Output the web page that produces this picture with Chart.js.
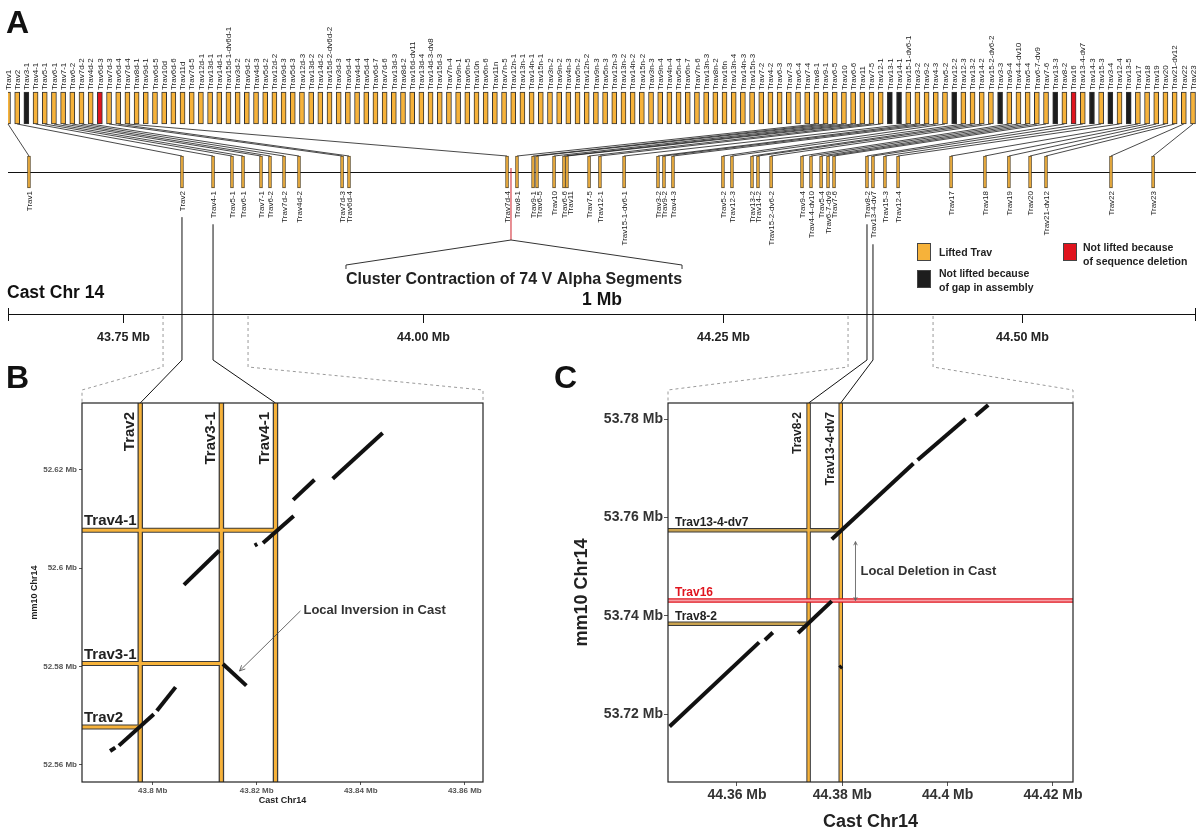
<!DOCTYPE html>
<html><head><meta charset="utf-8">
<script src="https://cdn.jsdelivr.net/npm/chart.js@4/dist/chart.umd.min.js"></script>
<style>
html,body{margin:0;padding:0;background:#fff;}
#wrap{position:relative;width:1204px;height:833px;overflow:hidden;background:#fff;}
canvas{position:absolute;}
</style></head><body>
<div id="wrap">
<canvas id="cA" width="1204" height="833" style="left:0px;top:0px"></canvas>
<canvas id="cB" width="500" height="420" style="left:0px;top:390px"></canvas>
<canvas id="cC" width="644" height="443" style="left:560px;top:390px"></canvas>
</div>
<script>
// ===================== DATA =====================
// Panel A: mm10 Trav gene order (top row)
const mm10Genes = [
'Trav1','Trav2','Trav3-1','Trav4-1','Trav5-1','Trav6-1','Trav7-1','Trav6-2','Trav7d-2','Trav4d-2',
'Trav6d-3','Trav7d-3','Trav6d-4','Trav7d-4','Trav8d-1','Trav9d-1','Trav6d-5','Trav10d','Trav6d-6','Trav11d',
'Trav7d-5','Trav12d-1','Trav13d-1','Trav14d-1','Trav15d-1-dv6d-1','Trav3d-2','Trav9d-2','Trav4d-3','Trav5d-2','Trav12d-2',
'Trav9d-3','Trav5d-3','Trav12d-3','Trav13d-2','Trav14d-2','Trav15d-2-dv6d-2','Trav3d-3','Trav9d-4','Trav4d-4','Trav5d-4',
'Trav6d-7','Trav7d-6','Trav13d-3','Trav8d-2','Trav16d-dv11','Trav13d-4','Trav14d-3-dv8','Trav15d-3','Trav7n-4','Trav9n-1',
'Trav6n-5','Trav10n','Trav6n-6','Trav11n','Trav7n-5','Trav12n-1','Trav13n-1','Trav14n-1','Trav15n-1','Trav3n-2',
'Trav9n-2','Trav4n-3','Trav5n-2','Trav12n-2','Trav9n-3','Trav5n-3','Trav12n-3','Trav13n-2','Trav14n-2','Trav15n-2',
'Trav3n-3','Trav9n-4','Trav4n-4','Trav5n-4','Trav6n-7','Trav7n-6','Trav13n-3','Trav8n-2','Trav16n','Trav13n-4',
'Trav14n-3','Trav15n-3','Trav7-2','Trav4-2','Trav6-3','Trav7-3','Trav6-4','Trav7-4','Trav8-1','Trav9-1',
'Trav6-5','Trav10','Trav6-6','Trav11','Trav7-5','Trav12-1','Trav13-1','Trav14-1','Trav15-1-dv6-1','Trav3-2',
'Trav9-2','Trav4-3','Trav5-2','Trav12-2','Trav12-3','Trav13-2','Trav14-2','Trav15-2-dv6-2','Trav3-3','Trav9-4',
'Trav4-4-dv10','Trav5-4','Trav6-7-dv9','Trav7-6','Trav13-3','Trav8-2','Trav16','Trav13-4-dv7','Trav14-3','Trav15-3',
'Trav3-4','Trav12-4','Trav13-5','Trav17','Trav18','Trav19','Trav20','Trav21-dv12','Trav22','Trav23'];
const gapGenes = ['Trav3-1','Trav13-1','Trav14-1','Trav12-2','Trav3-3','Trav13-3','Trav14-3','Trav3-4','Trav13-5'];
const deletedGenes = ['Trav6d-3','Trav16'];

// Panel A: lifted genes on Cast Chr14 (bottom row), positions in Mb
const castGenes = ['Trav1','Trav2','Trav4-1','Trav5-1','Trav6-1','Trav7-1','Trav6-2','Trav7d-2','Trav4d-2','Trav7d-3',
'Trav6d-4','Trav7d-4','Trav8-1','Trav9-1','Trav6-5','Trav10','Trav6-6','Trav11','Trav7-5','Trav12-1',
'Trav15-1-dv6-1','Trav3-2','Trav9-2','Trav4-3','Trav5-2','Trav12-3','Trav13-2','Trav14-2','Trav15-2-dv6-2','Trav9-4',
'Trav4-4-dv10','Trav5-4','Trav6-7-dv9','Trav7-6','Trav8-2','Trav13-4-dv7','Trav15-3','Trav12-4','Trav17','Trav18',
'Trav19','Trav20','Trav21-dv12','Trav22','Trav23'];
const castPosMb = [43.6716,43.7992,43.8251,43.8409,43.8501,43.8651,43.8726,43.8843,43.8968,43.9327,
43.9385,44.0703,44.0786,44.0920,44.0953,44.1095,44.1178,44.1203,44.1387,44.1478,
44.1679,44.1962,44.2012,44.2087,44.2504,44.2579,44.2746,44.2796,44.2905,44.3163,
44.3238,44.3322,44.3380,44.3430,44.3705,44.3755,44.3855,44.3964,44.4406,44.4689,
44.4889,44.5065,44.5198,44.5740,44.6091];
const castAxisRange = [43.6541, 44.6449];
const castAxisTicks = [43.75, 44.00, 44.25, 44.50];
const contractionPosMb = 44.0736;
const contractedCount = 74;
const zoomWindowB = [43.7834, 43.8543];
const zoomWindowC = [44.3547, 44.4256];
const zoomLinksB = ['Trav2','Trav4-1'];
const zoomLinksC = ['Trav8-2','Trav13-4-dv7'];

// Panel B
const bGenes = ['Trav2','Trav3-1','Trav4-1'];
const bCastMb = [43.7976, 43.8132, 43.8236];
const bMm10Mb = [52.5677, 52.5806, 52.6077];
const bRangeX = [43.7864, 43.8635];
const bRangeY = [52.5565, 52.6336];
const bTicksX = [43.80, 43.82, 43.84, 43.86];
const bTicksY = [52.56, 52.58, 52.60, 52.62];
const bSegments = [
 [43.7918,52.5628,43.7928,52.5635],
 [43.7935,52.5639,43.8002,52.5703],
 [43.8008,52.5710,43.8044,52.5758],
 [43.8135,52.5805,43.8180,52.5761],
 [43.8060,52.5966,43.8128,52.6036],
 [43.8196,52.6046,43.8201,52.6049],
 [43.8212,52.6051,43.8271,52.6106],
 [43.8270,52.6139,43.8311,52.6180],
 [43.8346,52.6182,43.8442,52.6275]];
const bInversionArrow = [43.8284, 52.5913, 43.8167, 52.5791];

// Panel C
const cGenes = ['Trav8-2','Trav13-4-dv7'];
const cCastMb = [44.3736, 44.3797];
const cMm10Mb = [53.7384, 53.7574];
const cDeletedGene = 'Trav16';
const cDeletedMm10Mb = 53.7431;
const cRangeX = [44.3469, 44.4238];
const cRangeY = [53.7062, 53.7833];
const cTicksX = [44.36, 44.38, 44.40, 44.42];
const cTicksY = [53.72, 53.74, 53.76, 53.78];
const cSegments = [
 [44.3472,53.7175,44.3642,53.7346],
 [44.3653,53.7351,44.3668,53.7366],
 [44.3716,53.7365,44.3780,53.7430],
 [44.3780,53.7556,44.3935,53.7710],
 [44.3943,53.7717,44.4034,53.7801],
 [44.4053,53.7807,44.4077,53.7829],
 [44.3795,53.7294,44.3799,53.7298]];
const cDeletionArrow = [44.3825, 53.7551, 44.3825, 53.7431];

// ===================== STYLE / LAYOUT =====================
const FF = "'Liberation Sans', Arial, Helvetica, sans-serif";
Chart.defaults.font.family = FF;
const COL = {lifted:'#F6B23A', gap:'#1d1d1d', deleted:'#E0141E', edge:'#3a3a3a', ink:'#222', seg:'#111'};
const L = {topLabelBase:90, topBarTop:92, topBarBot:124, lowBarTop:156, lowBarBot:188, chromY:172,
  lowLabelTop:191, axisY:314, elbowY:360, guideTop:316, guideElbow:367, guideCorner:390};
const OFF = {B:{left:0, top:390}, C:{left:560, top:390}};
const topSpan = [0, 129 * 1188 / 1185];

function statusOf(g){ return gapGenes.includes(g) ? 'gap' : (deletedGenes.includes(g) ? 'deleted' : 'lifted'); }
function fmtMb(v){ return Number(v.toFixed(2)) + ' Mb'; }
function seg(ctx,x1,y1,x2,y2){ ctx.beginPath(); ctx.moveTo(x1,y1); ctx.lineTo(x2,y2); ctx.stroke(); }
function arrowHead(ctx, x1,y1,x2,y2, size){
  const a = Math.atan2(y2-y1, x2-x1);
  ctx.beginPath();
  ctx.moveTo(x2 - size*Math.cos(a-0.45), y2 - size*Math.sin(a-0.45));
  ctx.lineTo(x2, y2);
  ctx.lineTo(x2 - size*Math.cos(a+0.45), y2 - size*Math.sin(a+0.45));
  ctx.stroke();
}

function lineDS(p1, p2, color, width, order){
  return {data:[{x:p1[0],y:p1[1]},{x:p2[0],y:p2[1]}], borderColor:color, borderWidth:width, order:order,
    pointRadius:0, fill:false, tension:0, borderCapStyle:'butt'};
}

function dotScales(rx, ry, tx, ty, o){
  return {
    x:{type:'linear', min:rx[0], max:rx[1],
      afterBuildTicks:s=>{ s.ticks = tx.map(v=>({value:v})); },
      afterFit:s=>{ s.height = o.xH; },
      grid:{drawOnChartArea:false, drawTicks:true, tickLength:o.tick, color:o.tickCol},
      border:{display:false},
      ticks:{font:{size:o.tickSize, weight:'bold'}, color:o.tickTxt, padding:o.xPad, maxRotation:0, autoSkip:false, callback:v=>fmtMb(v)},
      title:{display:true, text:'Cast Chr14', font:{size:o.titleSize, weight:'bold'}, color:'#222', padding:{top:0,bottom:o.xTitlePad}}},
    y:{type:'linear', min:ry[0], max:ry[1],
      afterBuildTicks:s=>{ s.ticks = ty.map(v=>({value:v})); },
      afterFit:s=>{ s.width = o.yW; },
      grid:{drawOnChartArea:false, drawTicks:true, tickLength:o.tick, color:o.tickCol},
      border:{display:false},
      ticks:{font:{size:o.tickSize, weight:'bold'}, color:o.tickTxt, padding:o.yPad, autoSkip:false, callback:v=>fmtMb(v)},
      title:{display:true, text:'mm10 Chr14', font:{size:o.titleSize, weight:'bold'}, color:'#222', padding:{top:o.yTitlePad,bottom:0}}}
  };
}

// ===================== PANEL B =====================
const bDatasets = [];
bSegments.forEach(s=>bDatasets.push(lineDS([s[0],s[1]],[s[2],s[3]], COL.seg, 4, 0)));
bCastMb.forEach(v=>{ bDatasets.push(lineDS([v,bRangeY[0]],[v,bRangeY[1]], COL.lifted, 3, 1));
                     bDatasets.push(lineDS([v,bRangeY[0]],[v,bRangeY[1]], COL.edge, 5.5, 3)); });
bMm10Mb.forEach((v,k)=>{ bDatasets.push(lineDS([bRangeX[0],v],[bCastMb[k],v], COL.lifted, 3, 2));
                          bDatasets.push(lineDS([bRangeX[0],v],[bCastMb[k],v], COL.edge, 5, 4)); });

const bPlugin = {id:'bDeco', afterDatasetsDraw(chart){
  const ctx = chart.ctx, a = chart.chartArea, x = chart.scales.x, y = chart.scales.y;
  ctx.save();
  ctx.strokeStyle = '#222'; ctx.lineWidth = 1.2; ctx.strokeRect(a.left, a.top, a.right-a.left, a.bottom-a.top);
  ctx.fillStyle = COL.ink; ctx.font = 'bold 15px ' + FF;
  bGenes.forEach((g,k)=>{
    ctx.save(); ctx.translate(x.getPixelForValue(bCastMb[k]) - 10.5, a.top + 9); ctx.rotate(-Math.PI/2);
    ctx.textAlign = 'right'; ctx.textBaseline = 'middle'; ctx.fillText(g, 0, 0); ctx.restore();
    ctx.textAlign = 'left'; ctx.textBaseline = 'alphabetic';
    ctx.fillText(g, a.left + 2, y.getPixelForValue(bMm10Mb[k]) - 5);
  });
  const [x1,y1,x2,y2] = bInversionArrow;
  const p1 = [x.getPixelForValue(x1), y.getPixelForValue(y1)], p2 = [x.getPixelForValue(x2), y.getPixelForValue(y2)];
  ctx.strokeStyle = '#444'; ctx.lineWidth = 0.8;
  seg(ctx, p1[0],p1[1],p2[0],p2[1]); arrowHead(ctx, p1[0],p1[1],p2[0],p2[1], 6);
  ctx.fillStyle = '#333'; ctx.font = 'bold 13px ' + FF; ctx.textAlign = 'left'; ctx.textBaseline = 'middle';
  ctx.fillText('Local Inversion in Cast', p1[0] + 3, p1[1] - 1);
  ctx.restore();
}};

const chartB = new Chart(document.getElementById('cB'), {
  type:'line', data:{datasets:bDatasets},
  options:{responsive:false, animation:false, devicePixelRatio:1,
    layout:{padding:{top:13, right:17, left:0, bottom:0}},
    plugins:{legend:{display:false}, tooltip:{enabled:false}},
    scales: dotScales(bRangeX, bRangeY, bTicksX, bTicksY,
      {xH:28, yW:82, tick:3, tickCol:'#555', tickSize:8, tickTxt:'#555', xPad:1, yPad:2, titleSize:9, xTitlePad:4, yTitlePad:29.5})},
  plugins:[bPlugin]
});

// ===================== PANEL C =====================
const cDatasets = [];
cSegments.forEach(s=>cDatasets.push(lineDS([s[0],s[1]],[s[2],s[3]], COL.seg, 4, 0)));
cDatasets.push(lineDS([cRangeX[0],cDeletedMm10Mb],[cRangeX[1],cDeletedMm10Mb], '#F6A0A6', 2, 1));
cDatasets.push(lineDS([cRangeX[0],cDeletedMm10Mb],[cRangeX[1],cDeletedMm10Mb], COL.deleted, 4.5, 2));
cCastMb.forEach(v=>{ cDatasets.push(lineDS([v,cRangeY[0]],[v,cRangeY[1]], COL.lifted, 2.5, 3));
                     cDatasets.push(lineDS([v,cRangeY[0]],[v,cRangeY[1]], COL.edge, 4.5, 5)); });
cMm10Mb.forEach((v,k)=>{ cDatasets.push(lineDS([cRangeX[0],v],[cCastMb[k],v], '#C9A24E', 2.5, 4));
                          cDatasets.push(lineDS([cRangeX[0],v],[cCastMb[k],v], COL.edge, 4.5, 6)); });

const cPlugin = {id:'cDeco', afterDatasetsDraw(chart){
  const ctx = chart.ctx, a = chart.chartArea, x = chart.scales.x, y = chart.scales.y;
  ctx.save();
  ctx.strokeStyle = '#222'; ctx.lineWidth = 1.2; ctx.strokeRect(a.left, a.top, a.right-a.left, a.bottom-a.top);
  ctx.fillStyle = COL.ink; ctx.font = 'bold 12px ' + FF;
  cGenes.forEach((g,k)=>{
    ctx.save(); ctx.translate(x.getPixelForValue(cCastMb[k]) - 10.5, a.top + 9); ctx.rotate(-Math.PI/2);
    ctx.textAlign = 'right'; ctx.textBaseline = 'middle'; ctx.fillText(g, 0, 0); ctx.restore();
    ctx.textAlign = 'left'; ctx.textBaseline = 'alphabetic';
    ctx.fillText(g, a.left + 7, y.getPixelForValue(cMm10Mb[k]) - 4);
  });
  ctx.fillStyle = COL.deleted; ctx.font = 'bold 12px ' + FF; ctx.textAlign = 'left'; ctx.textBaseline = 'alphabetic';
  ctx.fillText(cDeletedGene, a.left + 7, y.getPixelForValue(cDeletedMm10Mb) - 5);
  const [x1,y1,x2,y2] = cDeletionArrow;
  const p1 = [x.getPixelForValue(x1), y.getPixelForValue(y1)], p2 = [x.getPixelForValue(x2), y.getPixelForValue(y2)];
  ctx.strokeStyle = '#666'; ctx.lineWidth = 0.9;
  seg(ctx, p1[0],p1[1],p2[0],p2[1]); arrowHead(ctx, p1[0],p1[1],p2[0],p2[1], 4); arrowHead(ctx, p2[0],p2[1],p1[0],p1[1], 4);
  ctx.fillStyle = '#333'; ctx.font = 'bold 13px ' + FF; ctx.textAlign = 'left'; ctx.textBaseline = 'middle';
  ctx.fillText('Local Deletion in Cast', p1[0] + 5, (p1[1]+p2[1])/2);
  ctx.restore();
}};

const chartC = new Chart(document.getElementById('cC'), {
  type:'line', data:{datasets:cDatasets},
  options:{responsive:false, animation:false, devicePixelRatio:1,
    layout:{padding:{top:13, right:131, left:0, bottom:0}},
    plugins:{legend:{display:false}, tooltip:{enabled:false}},
    scales: dotScales(cRangeX, cRangeY, cTicksX, cTicksY,
      {xH:51, yW:108, tick:4, tickCol:'#555', tickSize:14, tickTxt:'#333', xPad:1, yPad:1, titleSize:18, xTitlePad:0, yTitlePad:11})},
  plugins:[cPlugin]
});

// ===================== PANEL A =====================
const aPlugin = {id:'aDeco',
  beforeDatasetsDraw(chart){
    const ctx = chart.ctx, xI = chart.scales.xIdx, xM = chart.scales.xMb, y = chart.scales.yL;
    ctx.save();
    ctx.strokeStyle = '#111'; ctx.lineWidth = 1;
    seg(ctx, xM.getPixelForValue(castAxisRange[0]), y.getPixelForValue(L.chromY)+0.5, xM.getPixelForValue(castAxisRange[1]), y.getPixelForValue(L.chromY)+0.5);
    ctx.strokeStyle = '#1a1a1a'; ctx.lineWidth = 0.8;
    mm10Genes.forEach((g,i)=>{
      const j = castGenes.indexOf(g); if (j < 0) return;
      seg(ctx, xI.getPixelForValue(i), y.getPixelForValue(L.topBarBot), xM.getPixelForValue(castPosMb[j]), y.getPixelForValue(L.lowBarTop));
    });
    ctx.restore();
  },
  afterDraw(chart){
    const ctx = chart.ctx, xI = chart.scales.xIdx, xM = chart.scales.xMb, y = chart.scales.yL;
    ctx.save();
    // panel letters
    ctx.fillStyle = '#111'; ctx.font = 'bold 32px ' + FF; ctx.textAlign = 'left'; ctx.textBaseline = 'alphabetic';
    ctx.fillText('A', 6, 33); ctx.fillText('B', 6, 388); ctx.fillText('C', 554, 388);
    // top labels
    ctx.fillStyle = COL.ink; ctx.font = '8px ' + FF;
    mm10Genes.forEach((g,i)=>{
      ctx.save(); ctx.translate(xI.getPixelForValue(i)+0.5, L.topLabelBase); ctx.rotate(-Math.PI/2);
      ctx.textAlign = 'left'; ctx.textBaseline = 'middle'; ctx.fillText(g, 0, 0); ctx.restore();
    });
    // bottom labels with small repel
    let prev = -1e9;
    castGenes.forEach((g,j)=>{
      const p = xM.getPixelForValue(castPosMb[j]); const q = Math.max(p, prev + 6.2); prev = q;
      ctx.save(); ctx.translate(q+0.5, L.lowLabelTop); ctx.rotate(-Math.PI/2);
      ctx.textAlign = 'right'; ctx.textBaseline = 'middle'; ctx.fillText(g, 0, 0); ctx.restore();
    });
    // contraction marker
    const xc = xM.getPixelForValue(contractionPosMb);
    ctx.strokeStyle = '#D0202A'; ctx.lineWidth = 1;
    seg(ctx, xc, L.chromY - 4, xc, 240);
    ctx.font = 'bold 16px ' + FF;
    const ctxt = 'Cluster Contraction of ' + contractedCount + ' V Alpha Segments';
    const tw = ctx.measureText(ctxt).width, tcx = 514;
    ctx.strokeStyle = '#333'; ctx.lineWidth = 1;
    ctx.beginPath(); ctx.moveTo(tcx - tw/2, 269); ctx.lineTo(tcx - tw/2, 265); ctx.lineTo(xc, 240);
    ctx.lineTo(tcx + tw/2, 265); ctx.lineTo(tcx + tw/2, 269); ctx.stroke();
    ctx.fillStyle = '#222'; ctx.textAlign = 'center'; ctx.textBaseline = 'middle';
    ctx.fillText(ctxt, tcx, 280);
    // Cast axis
    const x0 = xM.getPixelForValue(castAxisRange[0]), x1 = xM.getPixelForValue(castAxisRange[1]);
    ctx.fillStyle = '#111'; ctx.font = 'bold 17.5px ' + FF; ctx.textAlign = 'left';
    ctx.fillText('Cast Chr 14', 7, 293);
    ctx.textAlign = 'center'; ctx.fillText('1 Mb', (x0+x1)/2, 300);
    ctx.strokeStyle = '#111'; ctx.lineWidth = 1;
    seg(ctx, x0, L.axisY+0.5, x1, L.axisY+0.5);
    seg(ctx, x0+0.5, L.axisY-6, x0+0.5, L.axisY+7); seg(ctx, x1-0.5, L.axisY-6, x1-0.5, L.axisY+7);
    ctx.font = 'bold 12.5px ' + FF; ctx.fillStyle = '#222';
    castAxisTicks.forEach(v=>{ const p = Math.round(xM.getPixelForValue(v))+0.5; seg(ctx, p, L.axisY, p, L.axisY+9);
      ctx.fillText(v.toFixed(2) + ' Mb', p, 338); });
    // legend
    const box = (x,yy,c)=>{ ctx.fillStyle = c; ctx.fillRect(x,yy,14,18); ctx.strokeStyle = '#444'; ctx.lineWidth = 1; ctx.strokeRect(x+0.5,yy+0.5,13,17); };
    box(917, 243, COL.lifted); box(917, 270, COL.gap); box(1063, 243, COL.deleted);
    ctx.fillStyle = '#222'; ctx.font = 'bold 10.5px ' + FF; ctx.textAlign = 'left'; ctx.textBaseline = 'middle';
    ctx.fillText('Lifted Trav', 939, 253);
    ctx.fillText('Not lifted because', 939, 274); ctx.fillText('of gap in assembly', 939, 288);
    ctx.fillText('Not lifted because', 1083, 248); ctx.fillText('of sequence deletion', 1083, 262);
    // zoom guides (dashed)
    ctx.strokeStyle = '#9a9a9a'; ctx.lineWidth = 1; ctx.setLineDash([3,3]);
    const guide = (mb, cornerX, topY)=>{ const p = xM.getPixelForValue(mb);
      ctx.beginPath(); ctx.moveTo(p, L.guideTop); ctx.lineTo(p, L.guideElbow); ctx.lineTo(cornerX, L.guideCorner); ctx.lineTo(cornerX, topY); ctx.stroke(); };
    const aB = chartB.chartArea, aC = chartC.chartArea;
    guide(zoomWindowB[0], OFF.B.left + aB.left, OFF.B.top + aB.top);
    guide(zoomWindowB[1], OFF.B.left + aB.right, OFF.B.top + aB.top);
    guide(zoomWindowC[0], OFF.C.left + aC.left, OFF.C.top + aC.top);
    guide(zoomWindowC[1], OFF.C.left + aC.right, OFF.C.top + aC.top);
    ctx.setLineDash([]);
    // links from map to dot plots
    ctx.strokeStyle = '#111'; ctx.lineWidth = 1; ctx.font = '8px ' + FF;
    const link = (g, chartZ, off, genes, mbs)=>{
      const j = castGenes.indexOf(g); const p = xM.getPixelForValue(castPosMb[j]);
      const startY = L.lowLabelTop + ctx.measureText(g).width + 6;
      const k = genes.indexOf(g); const tx = off.left + chartZ.scales.x.getPixelForValue(mbs[k]);
      ctx.beginPath(); ctx.moveTo(p, startY); ctx.lineTo(p, L.elbowY); ctx.lineTo(tx, off.top + chartZ.chartArea.top); ctx.stroke();
    };
    zoomLinksB.forEach(g=>link(g, chartB, OFF.B, bGenes, bCastMb));
    zoomLinksC.forEach(g=>link(g, chartC, OFF.C, cGenes, cCastMb));
    ctx.restore();
  }
};

const topColors = mm10Genes.map(g=>COL[statusOf(g)]);
const chartA = new Chart(document.getElementById('cA'), {
  type:'bar',
  data:{datasets:[
    {label:'mm10 Trav', xAxisID:'xIdx', yAxisID:'yL', grouped:false,
     data: mm10Genes.map((g,i)=>({x:i, y:[L.topBarTop, L.topBarBot]})),
     backgroundColor: topColors, borderColor:'#333', borderWidth:1, borderSkipped:false, barThickness:5},
    {label:'Cast Trav', xAxisID:'xMb', yAxisID:'yL', grouped:false,
     data: castPosMb.map(v=>({x:v, y:[L.lowBarTop, L.lowBarBot]})),
     backgroundColor: COL.lifted, borderColor:'#5b4a2a', borderWidth:1, borderSkipped:false, barThickness:3}
  ]},
  options:{responsive:false, animation:false, devicePixelRatio:1,
    layout:{padding:{left:8, right:8, top:0, bottom:0}},
    plugins:{legend:{display:false}, tooltip:{enabled:false}},
    scales:{
      xIdx:{type:'linear', display:false, min:topSpan[0], max:topSpan[1], offset:false},
      xMb:{type:'linear', display:false, min:castAxisRange[0], max:castAxisRange[1], offset:false},
      yL:{type:'linear', display:false, min:0, max:833, reverse:true}
    }},
  plugins:[aPlugin]
});
</script>
</body></html>
